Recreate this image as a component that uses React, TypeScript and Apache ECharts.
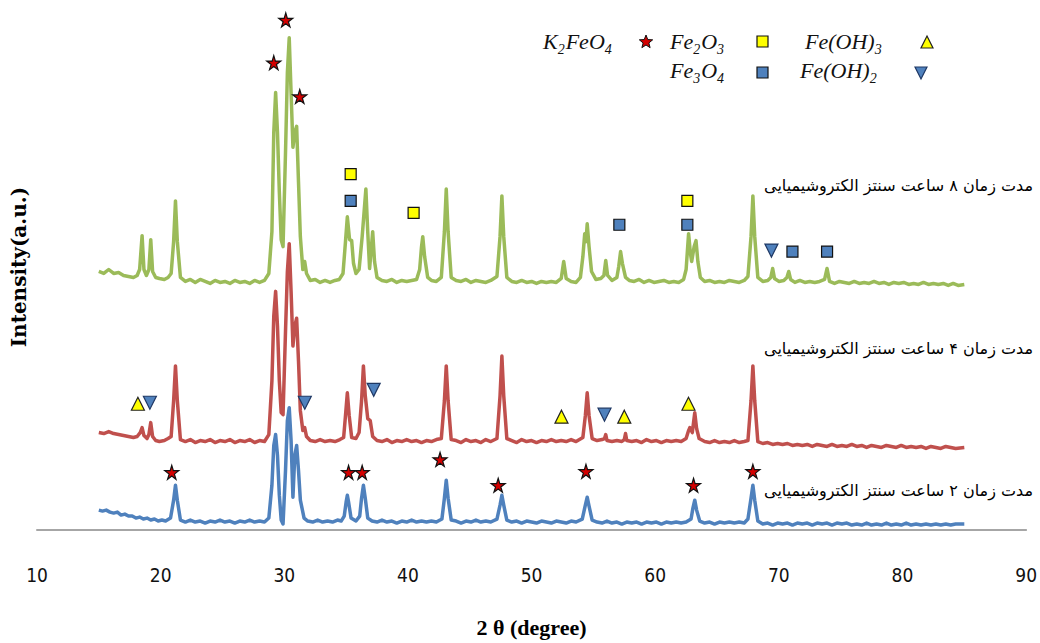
import React, { useEffect, useRef } from "react";
import * as echarts from "echarts";

// 2θ (degree), intensity (a.u., offset traces)
const green8h: number[][] = [
  [15,260],[15.4,258],[15.8,262],[16.2,258],[16.6,259],[17,256],[17.4,255],[17.8,254],[18.1,256],[18.3,262],[18.5,296],[18.65,262],[18.85,256],[19.05,262],[19.2,292],[19.35,260],[19.6,254],[19.9,253],[20.3,252],[20.6,254],[20.85,258],[21.05,290],[21.2,331],[21.35,290],[21.6,254],[22,250],[22.4,252],[22.8,249],[23.2,252],[23.6,250],[24,248],[24.4,251],[24.8,249],[25.2,250],[25.6,248],[26,251],[26.4,249],[26.8,250],[27.2,248],[27.6,251],[28,249],[28.4,251],[28.75,258],[29.0,300],[29.15,400],[29.3,440],[29.45,400],[29.6,340],[29.75,292],[29.9,285],[30.1,380],[30.25,460],[30.4,495],[30.55,440],[30.7,385],[30.85,400],[31.0,406],[31.15,350],[31.3,295],[31.5,262],[31.65,270],[31.8,258],[32.1,251],[32.5,252],[32.9,249],[33.3,251],[33.7,249],[34.1,251],[34.45,252],[34.75,258],[34.95,290],[35.1,315],[35.28,292],[35.45,291],[35.6,268],[35.8,258],[36.05,262],[36.3,295],[36.6,343],[36.75,300],[36.9,263],[37.05,285],[37.15,300],[37.3,270],[37.5,254],[37.9,251],[38.3,250],[38.7,252],[39.1,249],[39.5,251],[39.9,250],[40.3,251],[40.7,252],[40.95,262],[41.1,285],[41.2,295],[41.35,275],[41.6,254],[41.9,251],[42.3,250],[42.7,254],[42.95,300],[43.1,343],[43.25,300],[43.5,254],[43.9,251],[44.3,250],[44.7,252],[45.1,249],[45.5,251],[45.9,250],[46.3,249],[46.7,251],[47.2,255],[47.45,295],[47.6,336],[47.75,295],[48.0,254],[48.4,250],[48.8,249],[49.2,251],[49.6,249],[50,250],[50.4,248],[50.8,250],[51.2,249],[51.6,250],[52,249],[52.4,253],[52.6,270],[52.8,253],[53.2,250],[53.6,249],[53.95,254],[54.15,275],[54.3,298],[54.4,290],[54.5,308],[54.65,285],[54.85,260],[55.2,252],[55.6,253],[55.85,256],[56.0,271],[56.15,256],[56.5,251],[56.9,254],[57.05,265],[57.2,280],[57.35,268],[57.6,254],[57.9,251],[58.3,250],[58.7,252],[59.1,249],[59.5,251],[59.9,249],[60.3,250],[60.7,251],[61.1,249],[61.5,250],[61.9,249],[62.3,252],[62.5,262],[62.7,298],[62.85,278],[62.95,270],[63.15,285],[63.3,291],[63.45,270],[63.65,254],[64,250],[64.4,251],[64.8,249],[65.2,250],[65.6,249],[66,251],[66.4,250],[66.8,249],[67.2,251],[67.5,255],[67.75,295],[67.9,336],[68.05,295],[68.3,254],[68.7,250],[69.1,251],[69.35,254],[69.5,263],[69.65,253],[70.0,250],[70.4,251],[70.65,254],[70.8,260],[70.95,252],[71.3,249],[71.7,251],[72.1,249],[72.5,250],[72.9,249],[73.3,250],[73.7,252],[73.9,263],[74.1,250],[74.5,248],[74.9,250],[75.3,249],[75.7,248],[76.1,250],[76.5,248],[76.9,249],[77.3,248],[77.7,250],[78.1,248],[78.5,249],[78.9,247],[79.3,249],[79.7,248],[80.1,249],[80.5,247],[80.9,248],[81.3,247],[81.7,249],[82.1,247],[82.5,248],[82.9,247],[83.3,248],[83.7,246],[84.1,248],[84.5,246],[85,247]
];

const red4h: number[][] = [
  [15,98],[15.4,97],[15.8,99],[16.2,97],[16.6,96],[17,95],[17.4,94],[17.8,93],[18.1,94],[18.35,98],[18.5,103],[18.65,95],[18.9,92],[19.05,96],[19.2,108],[19.35,94],[19.6,90],[19.9,89],[20.3,90],[20.6,92],[20.85,94],[21.05,130],[21.2,165],[21.35,130],[21.6,91],[22,89],[22.4,91],[22.8,88],[23.2,90],[23.6,89],[24,91],[24.4,88],[24.8,90],[25.2,89],[25.6,91],[26,88],[26.4,90],[26.8,89],[27.2,91],[27.6,88],[28,90],[28.4,89],[28.75,96],[29.0,150],[29.15,215],[29.3,240],[29.45,205],[29.6,150],[29.75,118],[29.9,116],[30.1,200],[30.25,260],[30.4,288],[30.55,240],[30.7,185],[30.85,205],[31.0,213],[31.15,170],[31.3,120],[31.5,100],[31.65,103],[31.8,94],[32.1,90],[32.5,89],[32.9,91],[33.3,89],[33.7,90],[34.1,89],[34.5,91],[34.8,93],[34.95,115],[35.1,138],[35.25,115],[35.45,93],[35.8,92],[36.05,98],[36.25,130],[36.4,165],[36.55,135],[36.75,112],[36.95,110],[37.15,94],[37.5,90],[37.9,89],[38.3,91],[38.7,88],[39.1,90],[39.5,89],[39.9,91],[40.3,89],[40.7,90],[41.1,88],[41.5,90],[41.9,89],[42.3,91],[42.7,92],[42.95,130],[43.1,165],[43.25,130],[43.5,91],[43.9,90],[44.3,88],[44.7,91],[45.1,89],[45.5,90],[45.9,88],[46.3,91],[46.7,89],[47.2,92],[47.45,135],[47.6,175],[47.75,135],[48.0,92],[48.4,90],[48.8,88],[49.2,91],[49.6,89],[50,90],[50.4,88],[50.8,90],[51.2,89],[51.6,91],[52,89],[52.4,90],[52.8,89],[53.2,91],[53.6,89],[54.15,93],[54.35,115],[54.5,138],[54.65,115],[54.9,92],[55.3,90],[55.7,91],[55.9,92],[56.0,96],[56.1,90],[56.5,89],[56.9,90],[57.3,89],[57.5,91],[57.6,97],[57.7,90],[58.1,89],[58.5,90],[58.9,88],[59.3,91],[59.7,89],[60.1,90],[60.5,88],[60.9,90],[61.3,89],[61.7,90],[62.1,89],[62.5,92],[62.7,100],[62.8,103],[63.0,98],[63.1,108],[63.2,118],[63.35,102],[63.55,92],[64,89],[64.4,88],[64.8,90],[65.2,88],[65.6,89],[66,88],[66.4,90],[66.8,88],[67.2,89],[67.5,90],[67.75,130],[67.9,165],[68.05,130],[68.3,89],[68.7,87],[69.1,88],[69.5,86],[69.9,87],[70.3,86],[70.7,87],[71.1,85],[71.5,86],[71.9,85],[72.3,86],[72.7,84],[73.1,86],[73.5,85],[73.9,84],[74.3,86],[74.7,84],[75.1,85],[75.5,84],[75.9,86],[76.3,84],[76.7,85],[77.1,83],[77.5,85],[77.9,84],[78.3,83],[78.7,85],[79.1,84],[79.5,83],[79.9,85],[80.3,83],[80.7,84],[81.1,83],[81.5,84],[81.9,82],[82.3,84],[82.7,83],[83.1,82],[83.5,84],[83.9,83],[84.3,82],[85,83]
];

const blue2h: number[][] = [
  [15,20],[15.3,19],[15.6,20],[15.9,18],[16.2,17],[16.5,18],[16.8,15],[17.1,16],[17.4,14],[17.7,14],[18,12],[18.3,13],[18.6,11],[18.9,12],[19.2,10],[19.5,11],[19.8,9],[20.1,10],[20.4,9],[20.8,12],[21.05,30],[21.2,45],[21.35,30],[21.6,10],[22,8],[22.4,10],[22.8,8],[23.2,9],[23.6,7],[24,9],[24.4,8],[24.8,10],[25.2,8],[25.6,9],[26,7],[26.4,9],[26.8,8],[27.2,10],[27.6,8],[28,9],[28.4,8],[28.75,12],[29.0,45],[29.15,85],[29.3,96],[29.45,75],[29.6,35],[29.75,10],[29.9,6],[30.1,60],[30.25,110],[30.4,123],[30.55,90],[30.7,33],[30.85,75],[31.0,85],[31.15,60],[31.3,30],[31.6,12],[31.9,9],[32.3,8],[32.7,10],[33.1,8],[33.5,9],[33.9,8],[34.3,10],[34.6,9],[34.85,14],[35.0,28],[35.1,35],[35.2,28],[35.4,12],[35.8,9],[36.1,14],[36.25,32],[36.4,45],[36.55,32],[36.75,12],[37.1,9],[37.5,8],[37.9,10],[38.3,8],[38.7,9],[39.1,7],[39.5,9],[39.9,8],[40.3,10],[40.7,8],[41.1,9],[41.5,8],[41.9,9],[42.3,8],[42.75,11],[42.95,32],[43.1,50],[43.25,32],[43.5,10],[43.9,9],[44.3,7],[44.7,9],[45.1,8],[45.5,10],[45.9,8],[46.3,9],[46.7,8],[47.2,11],[47.45,25],[47.6,35],[47.75,25],[48.0,10],[48.4,8],[48.8,9],[49.2,7],[49.6,9],[50,8],[50.4,7],[50.8,9],[51.2,8],[51.6,7],[52,9],[52.4,8],[52.8,7],[53.2,9],[53.6,8],[54.1,11],[54.35,25],[54.5,33],[54.65,24],[54.9,10],[55.3,8],[55.7,7],[56.1,9],[56.5,7],[56.9,8],[57.3,6],[57.7,8],[58.1,7],[58.5,8],[58.9,6],[59.3,8],[59.7,7],[60.1,8],[60.5,6],[60.9,8],[61.3,7],[61.7,8],[62.1,7],[62.5,8],[62.9,11],[63.05,22],[63.2,30],[63.35,20],[63.6,9],[64,7],[64.4,8],[64.8,6],[65.2,8],[65.6,7],[66,8],[66.4,7],[66.8,8],[67.2,7],[67.5,11],[67.75,32],[67.9,45],[68.05,30],[68.3,9],[68.7,6],[69.1,7],[69.5,5],[69.9,7],[70.3,6],[70.7,7],[71.1,5],[71.5,7],[71.9,6],[72.3,7],[72.7,5],[73.1,7],[73.5,6],[73.9,7],[74.3,5],[74.7,7],[75.1,6],[75.5,7],[75.9,5],[76.3,6],[76.7,5],[77.1,7],[77.5,5],[77.9,6],[78.3,5],[78.7,7],[79.1,5],[79.5,6],[79.9,5],[80.3,7],[80.7,5],[81.1,6],[81.5,5],[81.9,6],[82.3,5],[82.7,6],[83.1,5],[83.5,6],[83.9,5],[84.3,6],[85,6]
];

// phase markers [2θ, position]
const k2feo4Marks: number[][] = [
  [29.15,470],[30.12,513],[31.25,436],
  [20.9,58],[35.2,58],[36.3,58],[42.6,71],[47.3,45],[54.4,59],[63.1,45],[67.9,59]
];
const fe2o3Marks: number[][] = [[35.37,358],[40.46,319],[62.6,331]];
const fe3o4Marks: number[][] = [[35.37,331],[57.1,307],[62.6,307],[71.1,280],[73.9,280]];
const feoh3Marks: number[][] = [[18.16,127],[52.42,114],[57.5,114],[62.69,127]];
const feoh2Marks: number[][] = [[69.4,281],[19.13,128],[31.66,128],[37.23,141],[55.9,116]];

const traceLabels = [
  "مدت زمان ۸ ساعت سنتز الکتروشیمیایی",
  "مدت زمان ۴ ساعت سنتز الکتروشیمیایی",
  "مدت زمان ۲ ساعت سنتز الکتروشیمیایی",
];
// legend formulas: [text, isSubscript]
const legendK2FeO4: [string, boolean][] = [["K", false], ["2", true], ["FeO", false], ["4", true]];
const legendFe2O3: [string, boolean][] = [["Fe", false], ["2", true], ["O", false], ["3", true]];
const legendFeOH3: [string, boolean][] = [["Fe(OH)", false], ["3", true]];
const legendFe3O4: [string, boolean][] = [["Fe", false], ["3", true], ["O", false], ["4", true]];
const legendFeOH2: [string, boolean][] = [["Fe(OH)", false], ["2", true]];
const xTicks = [10, 90, 10]; // min, max, interval

const STAR = "path://M50,0 L61,35 L98,35 L68,57 L79,91 L50,70 L21,91 L32,57 L2,35 L39,35 Z";

function starPoints(cx: number, cy: number, ro: number, ri: number) {
  const pts: number[][] = [];
  for (let i = 0; i < 10; i++) {
    const r = i % 2 === 0 ? ro : ri;
    const a = -Math.PI / 2 + (i * Math.PI) / 5;
    pts.push([cx + r * Math.cos(a), cy + r * Math.sin(a)]);
  }
  return pts;
}

const serif = '"Liberation Serif", "DejaVu Serif", serif';
const mainFont = `italic 22px ${serif}`;
const subFont = `italic 14px ${serif}`;

let measureCtx: CanvasRenderingContext2D | null = null;
function measure(text: string, font: string) {
  if (!measureCtx) measureCtx = document.createElement("canvas").getContext("2d");
  if (!measureCtx) return text.length * 10;
  measureCtx.font = font;
  return measureCtx.measureText(text).width;
}

function formula(parts: [string, boolean][], x: number, y: number) {
  const els: any[] = [];
  let cx = x;
  for (const [t, sub] of parts) {
    const font = sub ? subFont : mainFont;
    els.push({
      type: "text",
      x: cx,
      y: sub ? y + 8 : y,
      style: { text: t, font, fill: "#111", textAlign: "left", textVerticalAlign: "middle" },
    });
    cx += measure(t, font) + (sub ? 1 : 0);
  }
  return els;
}

export default function App() {
  const ref = useRef<HTMLDivElement>(null);
  useEffect(() => {
    if (!ref.current) return;
    const chart = echarts.init(ref.current, undefined, { renderer: "svg" });
    const lineSeries = (name: string, data: number[][], color: string) => ({
      name,
      type: "line",
      data,
      showSymbol: false,
      symbol: "none",
      lineStyle: { color, width: 3.5, join: "round" },
      itemStyle: { color },
      silent: true,
    });
    const markSeries = (name: string, data: number[][], symbol: string, size: number, color: string, border: string, rotate = 0) => ({
      name,
      type: "scatter",
      data,
      symbol,
      symbolSize: size,
      symbolRotate: rotate,
      itemStyle: { color, borderColor: border, borderWidth: 1.2, opacity: 1 },
      z: 5,
    });
    const labelFont = '16px "DejaVu Sans", "Noto Sans", sans-serif';
    chart.setOption({
      animation: false,
      backgroundColor: "#fff",
      grid: { left: 37, right: 13, top: 10, bottom: 110, containLabel: false },
      xAxis: {
        type: "value",
        min: xTicks[0],
        max: xTicks[1],
        interval: xTicks[2],
        name: "2 θ (degree)",
        nameLocation: "middle",
        nameGap: 97,
        nameTextStyle: { fontFamily: serif, fontWeight: "bold", fontSize: 22, color: "#000", verticalAlign: "middle" },
        axisLine: { show: true, lineStyle: { color: "#A6A6A6", width: 2 } },
        axisTick: { show: false },
        splitLine: { show: false },
        axisLabel: {
          margin: 35,
          fontSize: 19,
          color: "#111",
          fontFamily: '"Liberation Sans Narrow", "DejaVu Sans Condensed", "Liberation Sans", sans-serif',
          showMinLabel: true,
          showMaxLabel: true,
        },
      },
      yAxis: { type: "value", min: 0, max: 523, show: false },
      series: [
        lineSeries("8h", green8h, "#9BBB59"),
        lineSeries("4h", red4h, "#C0504D"),
        lineSeries("2h", blue2h, "#4F81BD"),
        markSeries("K2FeO4", k2feo4Marks, STAR, 14, "#D40000", "#111"),
        markSeries("Fe2O3", fe2o3Marks, "rect", 11, "#FFFF00", "#111"),
        markSeries("Fe3O4", fe3o4Marks, "rect", 11, "#4F81BD", "#111"),
        markSeries("Fe(OH)3", feoh3Marks, "triangle", 13, "#FFFF00", "#222"),
        markSeries("Fe(OH)2", feoh2Marks, "triangle", 13, "#4F81BD", "#1F3864", 180),
      ],
      graphic: [
        {
          type: "text",
          x: 19,
          y: 267,
          rotation: Math.PI / 2,
          style: { text: "Intensity(a.u.)", font: 'bold 20px "DejaVu Serif", serif', fill: "#000", textAlign: "center", textVerticalAlign: "middle" },
        },
        { type: "text", x: 1033, y: 185, style: { text: traceLabels[0], font: labelFont, fill: "#000", textAlign: "right", textVerticalAlign: "middle" } },
        { type: "text", x: 1033, y: 348, style: { text: traceLabels[1], font: labelFont, fill: "#000", textAlign: "right", textVerticalAlign: "middle" } },
        { type: "text", x: 1033, y: 490, style: { text: traceLabels[2], font: labelFont, fill: "#000", textAlign: "right", textVerticalAlign: "middle" } },
        ...formula(legendK2FeO4, 543, 41),
        { type: "polygon", shape: { points: starPoints(646, 42, 7, 3) }, style: { fill: "#D40000", stroke: "#111", lineWidth: 1 } },
        ...formula(legendFe2O3, 670, 41),
        { type: "rect", shape: { x: 757, y: 36, width: 11, height: 11 }, style: { fill: "#FFFF00", stroke: "#111", lineWidth: 1.2 } },
        ...formula(legendFeOH3, 805, 41),
        { type: "polygon", shape: { points: [[927, 36], [933, 48], [921, 48]] }, style: { fill: "#FFFF00", stroke: "#222", lineWidth: 1.2 } },
        ...formula(legendFe3O4, 670, 70),
        { type: "rect", shape: { x: 757, y: 67, width: 11, height: 11 }, style: { fill: "#4F81BD", stroke: "#111", lineWidth: 1.2 } },
        ...formula(legendFeOH2, 800, 70),
        { type: "polygon", shape: { points: [[915, 67], [927, 67], [921, 79]] }, style: { fill: "#4F81BD", stroke: "#1F3864", lineWidth: 1.2 } },
      ],
    });
    return () => chart.dispose();
  }, []);
  return (
    <div
      ref={ref}
      style={{ position: "absolute", left: 0, top: 0, width: 1040, height: 643, background: "#fff" }}
    />
  );
}
